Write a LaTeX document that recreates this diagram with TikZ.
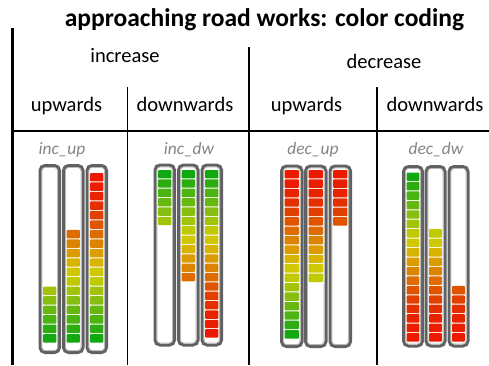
\documentclass[tikz,border=0pt]{standalone}
\usepackage{fontspec}
\setmainfont{Carlito}
\definecolor{segc1}{HTML}{12A810}
\definecolor{segc2}{HTML}{2CAC10}
\definecolor{segc3}{HTML}{4CB410}
\definecolor{segc4}{HTML}{66B810}
\definecolor{segc5}{HTML}{88BE10}
\definecolor{segc6}{HTML}{A2C408}
\definecolor{segc7}{HTML}{C0CA00}
\definecolor{segc8}{HTML}{D0C800}
\definecolor{segc9}{HTML}{D8B400}
\definecolor{segc10}{HTML}{DC9C00}
\definecolor{segc11}{HTML}{DC8400}
\definecolor{segc12}{HTML}{DE6C00}
\definecolor{segc13}{HTML}{E05400}
\definecolor{segc14}{HTML}{E24000}
\definecolor{segc15}{HTML}{E43000}
\definecolor{segc16}{HTML}{E82400}
\definecolor{segc17}{HTML}{EA1E00}
\definecolor{segc18}{HTML}{EC1A00}
\definecolor{labgray}{HTML}{858585}
\tikzset{
  rule/.style={line width=2.4bp, black},
  subrule/.style={line width=1.8bp, black},
  titletext/.style={font=\bfseries\fontsize{25.6}{30}\selectfont, anchor=base},
  headtext/.style={font=\fontsize{20.6}{24}\selectfont, anchor=base},
  labtext/.style={font=\itshape\fontsize{17.5}{21}\selectfont, text=labgray, anchor=base},
  tubeouter/.style={draw=black!62, line width=3bp, fill=white, rounded corners=5bp},
  tubeinner/.style={draw=black!28, line width=0.8bp, rounded corners=3.5bp},
}
% #1 x left, #2 width, #3 top, #4 bottom, #5 segTop, #6 segBot, #7 first slot, #8 last slot, #9 up(1)/dw(0)
\newcommand{\mytube}[9]{%
  \draw[tubeouter] (#1,#3) rectangle ++(#2,#4-#3);
  \draw[tubeinner] (#1+1.9,#3+1.9) rectangle (#1+#2-1.9,#4-1.9);
  \foreach \s in {#7,...,#8}{%
    \pgfmathsetmacro\ya{#5+(\s-1)*(#6-#5)/18}%
    \pgfmathsetmacro\yb{#5+\s*(#6-#5)/18-1.0}%
    \pgfmathtruncatemacro\ci{#9==1 ? 19-\s : \s}%
    \fill[segc\ci, rounded corners=0.8bp] (#1+3.2,\ya) rectangle (#1+#2-3.2,\yb);
  }%
}
\begin{document}
\begin{tikzpicture}[x=1bp,y=-1bp]
\useasboundingbox (0,0) rectangle (489,365);
% texts
\node[titletext] (title) at (264.5,26) {approaching road works: color coding};
\node[headtext] (inc) at (125,62) {increase};
\node[headtext] (dec) at (384,68) {decrease};
\node[headtext] (up1) at (66.5,111) {upwards};
\node[headtext] (dw1) at (185,111) {downwards};
\node[headtext] (up2) at (306.5,111) {upwards};
\node[headtext] (dw2) at (435,111) {downwards};
\node[labtext] (l1) at (62,154.5) {inc\_up};
\node[labtext] (l2) at (189,154.5) {inc\_dw};
\node[labtext] (l3) at (313,154.5) {dec\_up};
\node[labtext] (l4) at (436,154.5) {dec\_dw};
% rules
\draw[rule] (12.5,28) -- (12.5,365);
\draw[rule] (11.3,131) -- (489,131);
\draw[subrule] (127.5,87) -- (127.5,365);
\draw[subrule] (249,47) -- (249,365);
\draw[subrule] (377,87) -- (377,365);
% inc_up
\mytube{40}{19.5}{165.5}{352.5}{173}{343.5}{13}{18}{1}
\mytube{63.5}{19.5}{165.5}{352.5}{173}{343.5}{7}{18}{1}
\mytube{87}{19.5}{165.5}{352.5}{173}{343.5}{1}{18}{1}
% inc_dw
\mytube{155}{19.5}{165}{345}{170}{338.5}{1}{6}{0}
\mytube{178.5}{19.5}{165}{345}{170}{338.5}{1}{12}{0}
\mytube{202}{19.5}{165}{345}{170}{338.5}{1}{18}{0}
% dec_up
\mytube{281.5}{20.5}{166}{346.5}{170}{339.5}{1}{18}{1}
\mytube{305.5}{20.5}{166}{346.5}{170}{339.5}{1}{12}{1}
\mytube{330}{20.5}{166}{346.5}{170}{339.5}{1}{6}{1}
% dec_dw
\mytube{403.5}{19}{166.5}{346}{172.5}{342.5}{1}{18}{0}
\mytube{426}{19}{166.5}{346}{172.5}{342.5}{7}{18}{0}
\mytube{449}{19}{166.5}{346}{172.5}{342.5}{13}{18}{0}
\end{tikzpicture}
\end{document}
